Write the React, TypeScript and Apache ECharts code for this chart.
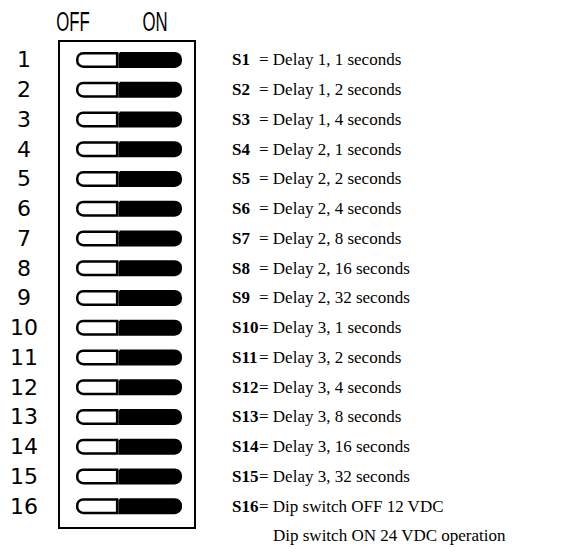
import React, { useEffect, useRef } from "react";
import * as echarts from "echarts";

const switchNumbers = ["1", "2", "3", "4", "5", "6", "7", "8", "9", "10", "11", "12", "13", "14", "15", "16"];
const offPart = [40, 40, 40, 40, 40, 40, 40, 40, 40, 40, 40, 40, 40, 40, 40, 40];
const onPart = [60, 60, 60, 60, 60, 60, 60, 60, 60, 60, 60, 60, 60, 60, 60, 60];
const switchNames = ["S1", "S2", "S3", "S4", "S5", "S6", "S7", "S8", "S9", "S10", "S11", "S12", "S13", "S14", "S15", "S16"];
const descriptions = [
  "Delay 1, 1 seconds",
  "Delay 1, 2 seconds",
  "Delay 1, 4 seconds",
  "Delay 2, 1 seconds",
  "Delay 2, 2 seconds",
  "Delay 2, 4 seconds",
  "Delay 2, 8 seconds",
  "Delay 2, 16 seconds",
  "Delay 2, 32 seconds",
  "Delay 3, 1 seconds",
  "Delay 3, 2 seconds",
  "Delay 3, 4 seconds",
  "Delay 3, 8 seconds",
  "Delay 3, 16 seconds",
  "Delay 3, 32 seconds",
  "Dip switch OFF 12 VDC",
];
const extraLine = "Dip switch ON 24 VDC operation";
const headers = ["OFF", "ON"];

export default function App() {
  const ref = useRef<HTMLDivElement>(null);
  useEffect(() => {
    if (!ref.current) return;
    const chart = echarts.init(ref.current, null, { renderer: "svg" });
    const serif = "'Liberation Serif', 'Times New Roman', 'DejaVu Serif', serif";
    chart.setOption({
      animation: false,
      backgroundColor: "#fff",
      grid: { left: 76, width: 106, top: 45, height: 476 },
      xAxis: { type: "value", min: 0, max: 100, show: false },
      yAxis: [
        {
          type: "category",
          data: switchNumbers,
          inverse: true,
          axisLine: { show: false },
          axisTick: { show: false },
          axisLabel: {
            align: "center",
            margin: 52,
            fontFamily: "DejaVu Sans",
            fontSize: 22,
            color: "#000",
          },
        },
        {
          type: "category",
          data: switchNames,
          inverse: true,
          position: "right",
          axisLine: { show: false },
          axisTick: { show: false },
          axisLabel: {
            align: "left",
            margin: 50,
            formatter: (v: string, i: number) => `{b|${v}}{t|= ${descriptions[i]}}`,
            rich: {
              b: { fontFamily: serif, fontWeight: "bold", fontSize: 17, color: "#000", width: 27 },
              t: { fontFamily: serif, fontSize: 17, color: "#000" },
            },
          },
        },
      ],
      series: [
        {
          type: "bar",
          stack: "sw",
          data: offPart,
          barWidth: 16,
          itemStyle: { color: "#fff", borderColor: "#000", borderWidth: 2.5, borderRadius: [6, 0, 0, 6] },
        },
        {
          type: "bar",
          stack: "sw",
          data: onPart,
          barWidth: 16,
          itemStyle: { color: "#000", borderColor: "#000", borderWidth: 2.5, borderRadius: [0, 6, 6, 0] },
        },
      ],
      graphic: [
        {
          type: "rect",
          shape: { x: 59, y: 41, width: 136, height: 487 },
          style: { fill: "none", stroke: "#000", lineWidth: 2 },
        },
        {
          type: "text",
          x: 73,
          y: 21,
          scaleX: 0.6,
          style: {
            text: headers[0],
            fontFamily: "Liberation Sans",
            fontSize: 28,
            fill: "#000",
            align: "center",
            verticalAlign: "middle",
          },
        },
        {
          type: "text",
          x: 155,
          y: 21,
          scaleX: 0.6,
          style: {
            text: headers[1],
            fontFamily: "Liberation Sans",
            fontSize: 28,
            fill: "#000",
            align: "center",
            verticalAlign: "middle",
          },
        },
        {
          type: "text",
          x: 273,
          y: 535,
          style: {
            text: extraLine,
            fontFamily: serif,
            fontSize: 17,
            fill: "#000",
            align: "left",
            verticalAlign: "middle",
          },
        },
      ],
    });
    return () => chart.dispose();
  }, []);
  return <div ref={ref} style={{ position: "fixed", left: 0, top: 0, width: 576, height: 558 }} />;
}
